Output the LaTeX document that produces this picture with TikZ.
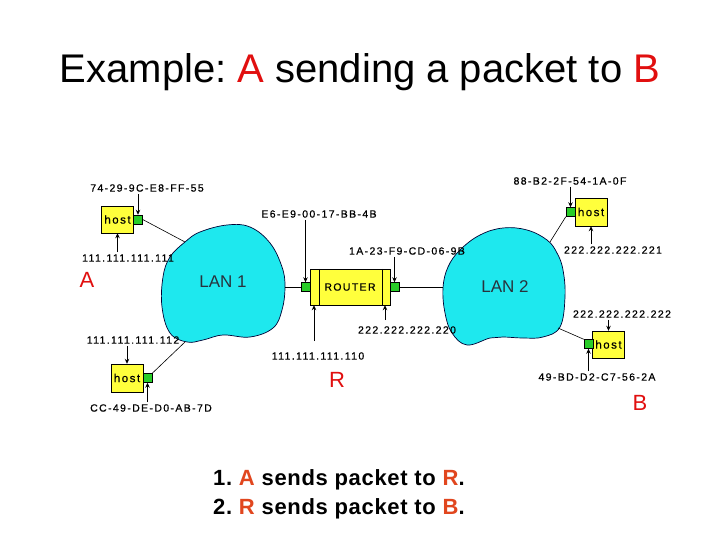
\documentclass[tikz,border=0pt]{standalone}
\usepackage{fontspec}
\setmainfont{Liberation Sans}
\newfontfamily\lblfont[LetterSpace=13,FakeBold=0.6]{Liberation Sans}
\newfontfamily\stepfont[LetterSpace=3]{Liberation Sans}
\usetikzlibrary{arrows.meta,calc}
\definecolor{lancyan}{RGB}{30,232,238}
\definecolor{hostyel}{RGB}{255,255,60}
\definecolor{ifgreen}{RGB}{40,205,40}
\definecolor{titlered}{RGB}{225,15,15}
\definecolor{stepred}{RGB}{225,70,30}
\definecolor{lantext}{RGB}{40,50,60}
\frenchspacing
\begin{document}
\begin{tikzpicture}[x=1pt,y=-1pt,
 hostbox/.style={draw,fill=hostyel,minimum width=32pt,minimum height=27pt,inner sep=0pt,font=\lblfont\fontsize{11.5}{11.5}\selectfont},
 iface/.style={draw,fill=ifgreen,minimum width=9pt,minimum height=9pt,inner sep=0pt},
 lbl/.style={inner sep=0pt,font=\lblfont\fontsize{10.5}{10.5}\selectfont},
 ptr/.style={-{Stealth[length=5pt,width=4.5pt]},line width=0.9pt,shorten <=2pt},
 wire/.style={line width=0.6pt},
 lan/.style={draw=black!80!blue,fill=lancyan,line width=0.7pt},
 lantxt/.style={text=lantext,font=\fontsize{17}{17}\selectfont,inner sep=0pt},
 redltr/.style={text=titlered,font=\fontsize{22}{22}\selectfont,inner sep=0pt},
 steptxt/.style={anchor=base west,inner sep=0pt,font=\stepfont\bfseries\fontsize{22}{22}\selectfont},
]
\useasboundingbox (0,0) rectangle (720,540);
\fill[white] (0,0) rectangle (720,540);

% title
\node[anchor=base,inner sep=0pt,font=\fontsize{40}{48}\selectfont] (title) at (360,83)
  {Example: \textcolor{titlered}{A} sending a packet to \textcolor{titlered}{B}};

% LAN clouds
\draw[lan] plot[smooth cycle,tension=0.65] coordinates {(185,242) (200,232) (227,225) (250,227) (270,243) (282,267) (285,287) (282,310) (273,328) (250,337) (223,335) (203,340) (187,342) (170,333) (162,307) (163,277) (170,257)};
\draw[lan] plot[smooth cycle,tension=0.65] coordinates {(443,288) (448,267) (460,250) (480,235) (503,228) (527,230) (547,240) (557,253) (563,270) (565,297) (560,327) (543,337) (523,338) (503,337) (490,338) (467,345) (452,333) (445,313)};
\node[lantxt] (lan1) at (223,282) {LAN 1};
\node[lantxt] (lan2) at (505,287) {LAN 2};

\coordinate (l1a) at (185,242);
\coordinate (l1c) at (185,342);
\coordinate (l1r) at (285,287);
\coordinate (l2l) at (443,287);
\coordinate (l2t) at (550,242);
\coordinate (l2b) at (558,328);

% host A (top left)
\node[hostbox] (hA) at (117.5,219.5) {host};
\node[iface] (iA) at (138,219.5) {};
\node[lbl] (macA) at (147,188) {74-29-9C-E8-FF-55};
\node[lbl] (ipA) at (128,258) {111.111.111.111};
\node[redltr] (ltrA) at (87,280) {A};
\draw[wire] (iA.east) -- (l1a);
\draw[ptr] (macA.south -| iA.north) -- (iA.north);
\draw[ptr] (ipA.north -| hA.south) -- (hA.south);

% host bottom left
\node[hostbox,minimum height=28pt] (hC) at (127,378) {host};
\node[iface] (iC) at (147.5,378) {};
\node[lbl] (ipC) at (133,340) {111.111.111.112};
\node[lbl] (macC) at (151,408) {CC-49-DE-D0-AB-7D};
\draw[wire] (iC.north east) -- (l1c);
\draw[ptr] (ipC.south -| hC.north) -- (hC.north);
\draw[ptr] (macC.north -| iC.south) -- (iC.south);

% router
\node[draw,fill=hostyel,minimum width=80pt,minimum height=36pt,inner sep=0pt,font=\lblfont\fontsize{10.5}{10.5}\selectfont] (rt) at (350,287) {ROUTER};
\draw ([xshift=9pt]rt.north west) -- ([xshift=9pt]rt.south west);
\draw ([xshift=-8pt]rt.north east) -- ([xshift=-8pt]rt.south east);
\node[iface] (ifL) at (305.5,287) {};
\node[iface] (ifR) at (394.5,287) {};
\draw[wire] (ifL.west) -- (l1r);
\draw[wire] (ifR.east) -- (l2l);
\node[lbl] (macRL) at (319,214) {E6-E9-00-17-BB-4B};
\node[lbl] (macRR) at (407,251) {1A-23-F9-CD-06-9B};
\node[lbl] (ipRL) at (318,356) {111.111.111.110};
\node[lbl] (ipRR) at (407,330) {222.222.222.220};
\node[redltr] (ltrR) at (337,380) {R};
\draw[ptr] (macRL.south -| ifL.north) -- (ifL.north);
\draw[ptr] (macRR.south -| ifR.north) -- (ifR.north);
\draw[ptr,shorten <=11pt] ($(ipRL.north -| rt.south)+(-36,0)$) -- ($(rt.south)+(-36,0)$);
\draw[ptr,shorten <=6pt] ($(ipRR.north -| rt.south)+(35,0)$) -- ($(rt.south)+(35,0)$);

% host top right
\node[hostbox,minimum height=28pt] (hT) at (591,212) {host};
\node[iface] (iT) at (570.5,212) {};
\node[lbl] (macT) at (570,181) {88-B2-2F-54-1A-0F};
\node[lbl] (ipT) at (613,250) {222.222.222.221};
\draw[wire] (iT.south west) -- (l2t);
\draw[ptr] (macT.south -| iT.north) -- (iT.north);
\draw[ptr] (ipT.north -| hT.south) -- (hT.south);

% host bottom right (B)
\node[hostbox] (hB) at (608.5,344.5) {host};
\node[iface] (iB) at (588.5,344) {};
\node[lbl] (ipB) at (622,314) {222.222.222.222};
\node[lbl] (macB) at (597,377) {49-BD-D2-C7-56-2A};
\node[redltr] (ltrB) at (640,403) {B};
\draw[wire] (iB.north west) -- (l2b);
\draw[ptr] (ipB.south -| hB.north) -- (hB.north);
\draw[ptr] (macB.north -| iB.south) -- (iB.south);

% steps
\node[steptxt] (s1) at (213,485) {1. \textcolor{stepred}{A} sends packet to \textcolor{stepred}{R}.};
\node[steptxt] (s2) at (213,514) {2. \textcolor{stepred}{R} sends packet to \textcolor{stepred}{B}.};
\end{tikzpicture}
\end{document}
